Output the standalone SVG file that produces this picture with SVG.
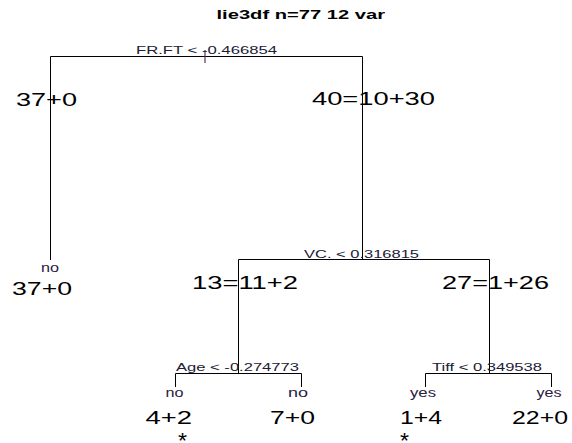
<svg xmlns="http://www.w3.org/2000/svg" width="572" height="443" viewBox="0 0 572 443">
  <style>
    text { font-family: "Liberation Sans", Arial, sans-serif; fill: #000; }
    .title { font-size: 13px; font-weight: bold; }
    .split { font-size: 11.5px; fill: #202036; }
    .cls { font-size: 12px; fill: #2a2040; }
    .count { font-size: 18px; }
    .star { font-size: 22px; }
    .edge { fill: none; stroke: #000; stroke-width: 1; }
    .tick { fill: none; stroke: #603060; stroke-width: 1.2; }
  </style>
  <rect width="572" height="443" fill="#fff"/>

  <text class="title" x="216.5" y="19" textLength="168.5" lengthAdjust="spacingAndGlyphs">lie3df n=77 12 var</text>

  <g id="connectors">
    <path class="edge" d="M50.5 56.5 H362.5 M50.5 56.5 V260 M362.5 56.5 V259.5"/>
    <path class="edge" d="M238.5 259.5 H489.5 M238.5 259.5 V373.5 M489.5 259.5 V373.5"/>
    <path class="edge" d="M175.5 373.5 H301.5 M175.5 373.5 V387 M301.5 373.5 V387"/>
    <path class="edge" d="M425.5 373.5 H551.5 M425.5 373.5 V387 M551.5 373.5 V387"/>
  </g>

  <g id="root">
    <path class="tick" d="M205 50 V63"/>
    <text class="split" x="136" y="54" textLength="141" lengthAdjust="spacingAndGlyphs">FR.FT &lt; -0.466854</text>
  </g>

  <g id="leaf-left">
    <text class="count" x="16" y="105.5" textLength="61" lengthAdjust="spacingAndGlyphs">37+0</text>
    <text class="cls" x="41" y="272" textLength="18" lengthAdjust="spacingAndGlyphs">no</text>
    <text class="count" x="12" y="295" textLength="60" lengthAdjust="spacingAndGlyphs">37+0</text>
  </g>

  <g id="node-vc">
    <text class="count" x="312" y="104.5" textLength="123" lengthAdjust="spacingAndGlyphs">40=10+30</text>
    <text class="split" x="304" y="258" textLength="115" lengthAdjust="spacingAndGlyphs">VC. &lt; 0.316815</text>
  </g>

  <g id="node-age">
    <text class="count" x="192" y="289" textLength="106" lengthAdjust="spacingAndGlyphs">13=11+2</text>
    <text class="split" x="176" y="371" textLength="123" lengthAdjust="spacingAndGlyphs">Age &lt; -0.274773</text>
  </g>

  <g id="node-tiff">
    <text class="count" x="442" y="289" textLength="107" lengthAdjust="spacingAndGlyphs">27=1+26</text>
    <text class="split" x="432" y="371" textLength="110" lengthAdjust="spacingAndGlyphs">Tiff &lt; 0.349538</text>
  </g>

  <g id="leaf-4-2">
    <text class="cls" x="165.5" y="397" textLength="18" lengthAdjust="spacingAndGlyphs">no</text>
    <text class="count" x="145.5" y="424" textLength="46.5" lengthAdjust="spacingAndGlyphs">4+2</text>
    <text class="star" x="178" y="447.5" textLength="9" lengthAdjust="spacingAndGlyphs">*</text>
  </g>

  <g id="leaf-7-0">
    <text class="cls" x="288" y="397" textLength="20" lengthAdjust="spacingAndGlyphs">no</text>
    <text class="count" x="270" y="424" textLength="45" lengthAdjust="spacingAndGlyphs">7+0</text>
  </g>

  <g id="leaf-1-4">
    <text class="cls" x="410" y="397" textLength="26" lengthAdjust="spacingAndGlyphs">yes</text>
    <text class="count" x="400" y="424" textLength="42" lengthAdjust="spacingAndGlyphs">1+4</text>
    <text class="star" x="400" y="447.5" textLength="9" lengthAdjust="spacingAndGlyphs">*</text>
  </g>

  <g id="leaf-22-0">
    <text class="cls" x="536.5" y="397" textLength="25" lengthAdjust="spacingAndGlyphs">yes</text>
    <text class="count" x="512" y="424" textLength="56" lengthAdjust="spacingAndGlyphs">22+0</text>
  </g>
</svg>
